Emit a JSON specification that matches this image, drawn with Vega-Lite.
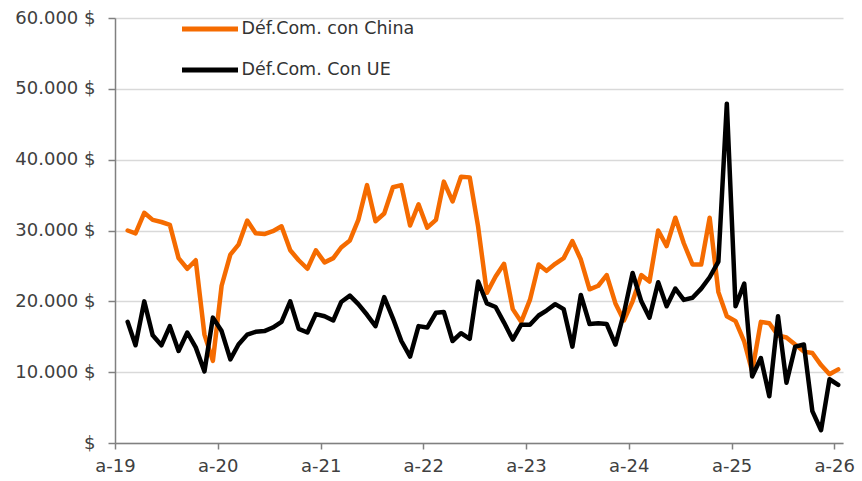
{
  "$schema": "https://vega.github.io/schema/vega-lite/v6.json",
  "width": 728,
  "height": 425,
  "autosize": "none",
  "padding": {"left": 115, "top": 18, "right": 19, "bottom": 38},
  "background": "white",
  "data": {
    "values": [
      {"fecha": "2019-02-15", "china": 30000, "ue": 17100},
      {"fecha": "2019-03-15", "china": 29600, "ue": 13800},
      {"fecha": "2019-04-15", "china": 32500, "ue": 20000},
      {"fecha": "2019-05-15", "china": 31500, "ue": 15200},
      {"fecha": "2019-06-15", "china": 31200, "ue": 13800},
      {"fecha": "2019-07-15", "china": 30800, "ue": 16500},
      {"fecha": "2019-08-15", "china": 26100, "ue": 13000},
      {"fecha": "2019-09-15", "china": 24600, "ue": 15600},
      {"fecha": "2019-10-15", "china": 25800, "ue": 13500},
      {"fecha": "2019-11-15", "china": 15300, "ue": 10100},
      {"fecha": "2019-12-15", "china": 11600, "ue": 17700},
      {"fecha": "2020-01-15", "china": 22200, "ue": 15800},
      {"fecha": "2020-02-15", "china": 26600, "ue": 11800},
      {"fecha": "2020-03-15", "china": 28000, "ue": 13900},
      {"fecha": "2020-04-15", "china": 31400, "ue": 15300},
      {"fecha": "2020-05-15", "china": 29600, "ue": 15700},
      {"fecha": "2020-06-15", "china": 29500, "ue": 15800},
      {"fecha": "2020-07-15", "china": 29900, "ue": 16300},
      {"fecha": "2020-08-15", "china": 30600, "ue": 17100},
      {"fecha": "2020-09-15", "china": 27200, "ue": 20000},
      {"fecha": "2020-10-15", "china": 25800, "ue": 16100},
      {"fecha": "2020-11-15", "china": 24600, "ue": 15600},
      {"fecha": "2020-12-15", "china": 27200, "ue": 18200},
      {"fecha": "2021-01-15", "china": 25500, "ue": 17900},
      {"fecha": "2021-02-15", "china": 26100, "ue": 17300},
      {"fecha": "2021-03-15", "china": 27600, "ue": 19900},
      {"fecha": "2021-04-15", "china": 28600, "ue": 20800},
      {"fecha": "2021-05-15", "china": 31500, "ue": 19600},
      {"fecha": "2021-06-15", "china": 36400, "ue": 18100},
      {"fecha": "2021-07-15", "china": 31300, "ue": 16500},
      {"fecha": "2021-08-15", "china": 32400, "ue": 20600},
      {"fecha": "2021-09-15", "china": 36100, "ue": 17600},
      {"fecha": "2021-10-15", "china": 36400, "ue": 14400},
      {"fecha": "2021-11-15", "china": 30700, "ue": 12200},
      {"fecha": "2021-12-15", "china": 33700, "ue": 16500},
      {"fecha": "2022-01-15", "china": 30400, "ue": 16300},
      {"fecha": "2022-02-15", "china": 31500, "ue": 18400},
      {"fecha": "2022-03-15", "china": 36900, "ue": 18500},
      {"fecha": "2022-04-15", "china": 34100, "ue": 14400},
      {"fecha": "2022-05-15", "china": 37600, "ue": 15500},
      {"fecha": "2022-06-15", "china": 37500, "ue": 14700},
      {"fecha": "2022-07-15", "china": 30500, "ue": 22800},
      {"fecha": "2022-08-15", "china": 21200, "ue": 19700},
      {"fecha": "2022-09-15", "china": 23500, "ue": 19200},
      {"fecha": "2022-10-15", "china": 25300, "ue": 17000},
      {"fecha": "2022-11-15", "china": 18900, "ue": 14600},
      {"fecha": "2022-12-15", "china": 17100, "ue": 16700},
      {"fecha": "2023-01-15", "china": 20200, "ue": 16700},
      {"fecha": "2023-02-15", "china": 25200, "ue": 18000},
      {"fecha": "2023-03-15", "china": 24300, "ue": 18700},
      {"fecha": "2023-04-15", "china": 25300, "ue": 19600},
      {"fecha": "2023-05-15", "china": 26100, "ue": 18900},
      {"fecha": "2023-06-15", "china": 28500, "ue": 13600},
      {"fecha": "2023-07-15", "china": 25900, "ue": 20900},
      {"fecha": "2023-08-15", "china": 21700, "ue": 16800},
      {"fecha": "2023-09-15", "china": 22200, "ue": 16900},
      {"fecha": "2023-10-15", "china": 23700, "ue": 16800},
      {"fecha": "2023-11-15", "china": 19700, "ue": 13900},
      {"fecha": "2023-12-15", "china": 17300, "ue": 18300},
      {"fecha": "2024-01-15", "china": 20000, "ue": 24000},
      {"fecha": "2024-02-15", "china": 23700, "ue": 20000},
      {"fecha": "2024-03-15", "china": 22800, "ue": 17700},
      {"fecha": "2024-04-15", "china": 30000, "ue": 22700},
      {"fecha": "2024-05-15", "china": 27800, "ue": 19300},
      {"fecha": "2024-06-15", "china": 31800, "ue": 21800},
      {"fecha": "2024-07-15", "china": 28200, "ue": 20200},
      {"fecha": "2024-08-15", "china": 25200, "ue": 20500},
      {"fecha": "2024-09-15", "china": 25200, "ue": 21800},
      {"fecha": "2024-10-15", "china": 31800, "ue": 23400},
      {"fecha": "2024-11-15", "china": 21300, "ue": 25600},
      {"fecha": "2024-12-15", "china": 17900, "ue": 47900},
      {"fecha": "2025-01-15", "china": 17200, "ue": 19300},
      {"fecha": "2025-02-15", "china": 14300, "ue": 22500},
      {"fecha": "2025-03-15", "china": 10100, "ue": 9400},
      {"fecha": "2025-04-15", "china": 17100, "ue": 12000},
      {"fecha": "2025-05-15", "china": 16900, "ue": 6600},
      {"fecha": "2025-06-15", "china": 15200, "ue": 17900},
      {"fecha": "2025-07-15", "china": 14900, "ue": 8500},
      {"fecha": "2025-08-15", "china": 13900, "ue": 13600},
      {"fecha": "2025-09-15", "china": 12900, "ue": 13900},
      {"fecha": "2025-10-15", "china": 12700, "ue": 4500},
      {"fecha": "2025-11-15", "china": 11000, "ue": 1800},
      {"fecha": "2025-12-15", "china": 9700, "ue": 9000},
      {"fecha": "2026-01-15", "china": 10400, "ue": 8200}
    ]
  },
  "transform": [{"fold": ["china", "ue"], "as": ["serie", "valor"]}],
  "mark": {"type": "line", "strokeWidth": 4.5, "strokeJoin": "round", "strokeCap": "round"},
  "encoding": {
    "x": {
      "field": "fecha",
      "type": "temporal",
      "scale": {
        "type": "utc",
        "domain": [
          {"year": 2019, "month": 1, "date": 1, "utc": true},
          {"year": 2026, "month": 2, "date": 1, "utc": true}
        ]
      },
      "axis": {
        "title": null,
        "grid": false,
        "values": [
          {"year": 2019, "month": 1, "date": 1, "utc": true},
          {"year": 2020, "month": 1, "date": 1, "utc": true},
          {"year": 2021, "month": 1, "date": 1, "utc": true},
          {"year": 2022, "month": 1, "date": 1, "utc": true},
          {"year": 2023, "month": 1, "date": 1, "utc": true},
          {"year": 2024, "month": 1, "date": 1, "utc": true},
          {"year": 2025, "month": 1, "date": 1, "utc": true},
          {"year": 2026, "month": 1, "date": 1, "utc": true}
        ],
        "labelExpr": "'a-' + utcFormat(datum.value, '%y')",
        "domainColor": "#808080",
        "domainWidth": 1.5,
        "tickColor": "#808080",
        "tickWidth": 1.5,
        "tickSize": 6,
        "labelPadding": 8,
        "labelFontSize": 18,
        "labelColor": "#404040",
        "labelFont": "DejaVu Sans",
        "labelFlush": false,
        "labelOverlap": false
      }
    },
    "y": {
      "field": "valor",
      "type": "quantitative",
      "scale": {"domain": [0, 60000], "nice": false, "zero": true},
      "axis": {
        "title": null,
        "values": [0, 10000, 20000, 30000, 40000, 50000, 60000],
        "labelExpr": "datum.value == 0 ? '$' : replace(format(datum.value, ',d'), ',', '.') + ' $'",
        "grid": true,
        "gridColor": "#d9d9d9",
        "gridWidth": 1.5,
        "domainColor": "#808080",
        "domainWidth": 1.5,
        "tickColor": "#808080",
        "tickWidth": 1.5,
        "tickSize": 7,
        "labelPadding": 13,
        "labelFontSize": 18,
        "labelColor": "#404040",
        "labelFont": "DejaVu Sans"
      }
    },
    "color": {
      "field": "serie",
      "type": "nominal",
      "scale": {"domain": ["china", "ue"], "range": ["#f56b00", "#000000"]},
      "legend": {
        "title": null,
        "orient": "none",
        "legendX": 64.5,
        "legendY": -19.5,
        "padding": 0,
        "symbolType": "stroke",
        "symbolSize": 3136,
        "symbolStrokeWidth": 5,
        "labelFontSize": 17.5,
        "labelFont": "DejaVu Sans",
        "labelColor": "#333333",
        "labelOffset": 1,
        "labelLimit": 400,
        "rowPadding": -19,
        "labelExpr": "datum.label == 'china' ? 'Déf.Com. con China' : 'Déf.Com. Con UE'"
      }
    }
  },
  "config": {"view": {"stroke": null}}
}
